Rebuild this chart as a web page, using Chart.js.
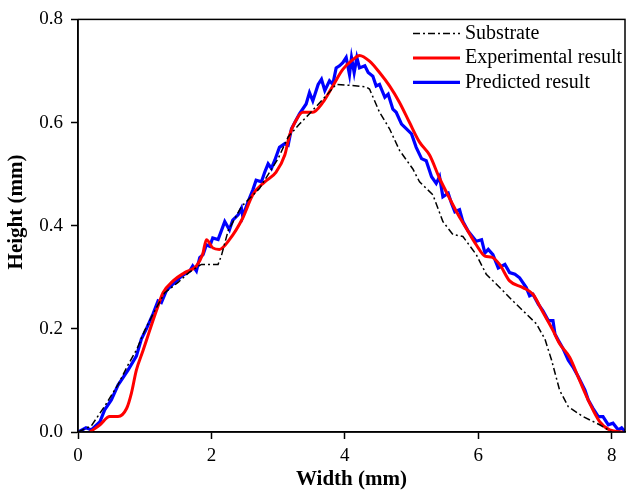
<!DOCTYPE html>
<html lang="en">
<head>
    <meta charset="UTF-8">
    <title>Height profile</title>
    <script src="https://cdn.jsdelivr.net/npm/chart.js"></script>
    <style>
        body {
            margin: 0;
            background-color: #fff;
        }
        #box {
            width: 627px;
            height: 494px;
        }
    </style>
</head>
<body>
    <div id="box"><canvas id="profileChart" width="627" height="494"></canvas></div>

    <script>
        // data
        const seriesNames = ['Substrate', 'Experimental result', 'Predicted result'];
        const xTicks = [0, 2, 4, 6, 8];
        const yTicks = [0, 0.2, 0.4, 0.6, 0.8];

        const substrateX = [0, 0.2, 0.4, 0.6, 0.75, 0.88, 1.0, 1.15, 1.3, 1.5,
            1.67, 1.85, 2.1, 2.15, 2.25, 2.45, 2.72, 3.0, 3.15, 3.32,
            3.47, 3.72, 3.87, 4.1, 4.32, 4.37, 4.52, 4.67, 4.82, 5.02,
            5.12, 5.32, 5.47, 5.62, 5.77, 5.97, 6.12, 6.37, 6.52, 6.72,
            6.87, 7.0, 7.1, 7.22, 7.35, 7.57, 7.82, 8.0];
        const substrateY = [0, 0.012, 0.05, 0.092, 0.13, 0.16, 0.197, 0.235, 0.27, 0.29,
            0.31, 0.325, 0.325, 0.342, 0.39, 0.437, 0.472, 0.53, 0.572, 0.597,
            0.617, 0.652, 0.674, 0.672, 0.669, 0.665, 0.62, 0.588, 0.546, 0.51,
            0.485, 0.46, 0.408, 0.383, 0.379, 0.344, 0.306, 0.274, 0.254, 0.229,
            0.21, 0.18, 0.139, 0.081, 0.049, 0.03, 0.014, 0.0];

        const experimentX = [0.18, 0.33, 0.475, 0.6, 0.73, 0.8, 0.875, 0.975, 1.075, 1.175,
            1.275, 1.425, 1.6, 1.775, 1.87, 1.925, 2.02, 2.12, 2.27, 2.47,
            2.62, 2.8, 2.97, 3.1, 3.17, 3.25, 3.37, 3.52, 3.67, 3.82,
            3.97, 4.12, 4.22, 4.37, 4.52, 4.67, 4.82, 4.97, 5.12, 5.27,
            5.42, 5.57, 5.7, 5.82, 5.97, 6.1, 6.2, 6.32, 6.47, 6.67,
            6.82, 6.97, 7.12, 7.22, 7.37, 7.52, 7.67, 7.82, 7.97, 8.17];
        const experimentY = [0, 0.014, 0.03, 0.03, 0.046, 0.075, 0.12, 0.158, 0.197, 0.235,
            0.27, 0.293, 0.309, 0.322, 0.345, 0.373, 0.357, 0.354, 0.373, 0.415,
            0.46, 0.485, 0.504, 0.537, 0.575, 0.6, 0.62, 0.62, 0.639, 0.671,
            0.703, 0.722, 0.73, 0.719, 0.697, 0.671, 0.639, 0.6, 0.562, 0.537,
            0.492, 0.453, 0.421, 0.395, 0.363, 0.341, 0.339, 0.325, 0.293, 0.28,
            0.267, 0.232, 0.197, 0.171, 0.145, 0.1, 0.056, 0.02, 0.004, 0];

        const predictedX = [0, 0.12, 0.2, 0.33, 0.4, 0.5, 0.6, 0.75, 0.875, 0.95,
            1.025, 1.125, 1.2, 1.25, 1.325, 1.425, 1.55, 1.675, 1.72, 1.775,
            1.825, 1.875, 1.925, 1.975, 2.02, 2.1, 2.2, 2.27, 2.32, 2.4,
            2.45, 2.47, 2.55, 2.62, 2.67, 2.75, 2.8, 2.85, 2.9, 2.95,
            3.02, 3.1, 3.15, 3.2, 3.25, 3.32, 3.42, 3.47, 3.52, 3.6,
            3.65, 3.7, 3.77, 3.82, 3.87, 3.92, 3.97, 4.02, 4.07, 4.1,
            4.14, 4.18, 4.22, 4.3, 4.35, 4.42, 4.47, 4.52, 4.6, 4.65,
            4.72, 4.77, 4.85, 4.92, 5.0, 5.07, 5.15, 5.22, 5.3, 5.37,
            5.42, 5.47, 5.55, 5.6, 5.65, 5.72, 5.77, 5.85, 5.97, 6.05,
            6.1, 6.15, 6.22, 6.3, 6.4, 6.47, 6.55, 6.62, 6.72, 6.77,
            6.82, 6.9, 6.97, 7.05, 7.12, 7.15, 7.2, 7.27, 7.35, 7.42,
            7.5, 7.6, 7.65, 7.72, 7.8, 7.87, 7.95, 8.02, 8.1, 8.15,
            8.2];
        const predictedY = [0, 0.008, 0.004, 0.02, 0.043, 0.062, 0.091, 0.12, 0.147, 0.18,
            0.2, 0.229, 0.254, 0.251, 0.274, 0.287, 0.302, 0.312, 0.322, 0.312,
            0.338, 0.344, 0.363, 0.36, 0.376, 0.373, 0.408, 0.392, 0.411, 0.421,
            0.434, 0.418, 0.447, 0.469, 0.488, 0.485, 0.504, 0.52, 0.511, 0.527,
            0.552, 0.559, 0.556, 0.588, 0.6, 0.617, 0.636, 0.658, 0.642, 0.674,
            0.684, 0.662, 0.681, 0.674, 0.706, 0.71, 0.716, 0.726, 0.693, 0.726,
            0.697, 0.726, 0.706, 0.71, 0.697, 0.69, 0.671, 0.674, 0.649, 0.655,
            0.626, 0.62, 0.597, 0.588, 0.578, 0.552, 0.53, 0.526, 0.495, 0.482,
            0.495, 0.456, 0.463, 0.443, 0.427, 0.431, 0.408, 0.389, 0.37, 0.373,
            0.347, 0.354, 0.344, 0.318, 0.325, 0.309, 0.306, 0.299, 0.28, 0.264,
            0.267, 0.248, 0.235, 0.216, 0.216, 0.19, 0.178, 0.162, 0.139, 0.126,
            0.107, 0.081, 0.062, 0.046, 0.03, 0.03, 0.014, 0.017, 0.004, 0.008,
            0.001];

        const toPoints = (xs, ys) => xs.map((x, i) => ({ x: x, y: ys[i] }));
        const serif = 'Liberation Serif, Times New Roman, serif';

        // box around the plot, y title and legend in the top right corner
        const framePlugin = {
            id: 'frame',
            afterDraw(chart) {
                const { ctx, chartArea } = chart;
                ctx.save();
                ctx.strokeStyle = '#000';
                ctx.lineWidth = 1.5;
                ctx.strokeRect(chartArea.left, chartArea.top,
                    chartArea.right - chartArea.left, chartArea.bottom - chartArea.top);

                // y axis title
                ctx.save();
                ctx.translate(17, 212);
                ctx.rotate(-Math.PI / 2);
                ctx.fillStyle = '#000';
                ctx.font = 'bold 21px ' + serif;
                ctx.textAlign = 'center';
                ctx.textBaseline = 'middle';
                ctx.fillText('Height (mm)', 0, 0);
                ctx.restore();

                const x0 = chartArea.left + 335;
                chart.data.datasets.forEach((ds, i) => {
                    const y = chartArea.top + 14 + i * 24.5;
                    ctx.beginPath();
                    ctx.strokeStyle = ds.borderColor;
                    ctx.lineWidth = ds.borderWidth;
                    ctx.setLineDash(ds.borderDash || []);
                    ctx.moveTo(x0, y);
                    ctx.lineTo(x0 + 47, y);
                    ctx.stroke();
                    ctx.setLineDash([]);
                    ctx.fillStyle = '#000';
                    ctx.font = '20px ' + serif;
                    ctx.textBaseline = 'middle';
                    ctx.textAlign = 'left';
                    ctx.fillText(ds.label, x0 + 52, y);
                });
                ctx.restore();
            }
        };

        const config = {
            type: 'line',
            data: {
                datasets: [{
                    label: seriesNames[0],
                    data: toPoints(substrateX, substrateY),
                    borderColor: '#000000',
                    borderWidth: 1.5,
                    borderDash: [7, 3, 2, 3],
                    pointRadius: 0,
                    tension: 0
                }, {
                    label: seriesNames[1],
                    data: toPoints(experimentX, experimentY),
                    borderColor: '#ff0000',
                    borderWidth: 3,
                    pointRadius: 0,
                    cubicInterpolationMode: 'monotone'
                }, {
                    label: seriesNames[2],
                    data: toPoints(predictedX, predictedY),
                    borderColor: '#0000ff',
                    borderWidth: 3.2,
                    pointRadius: 0,
                    tension: 0
                }]
            },
            options: {
                responsive: false,
                animation: false,
                layout: { padding: { top: 16, right: 2, left: 0, bottom: 0 } },
                plugins: {
                    legend: { display: false },
                    tooltip: { enabled: false }
                },
                scales: {
                    x: {
                        type: 'linear',
                        min: 0,
                        max: 8.2,
                        afterBuildTicks: s => { s.ticks = xTicks.map(v => ({ value: v })); },
                        afterFit: s => { s.height = 62; },
                        grid: { drawOnChartArea: false, tickLength: 7, tickColor: '#000', tickWidth: 1.5 },
                        border: { color: '#000', width: 1.5 },
                        ticks: {
                            padding: 6,
                            color: '#000',
                            font: { family: serif, size: 19 },
                            callback: v => String(v)
                        },
                        title: {
                            display: true,
                            text: 'Width (mm)',
                            color: '#000',
                            font: { family: serif, size: 21, weight: 'bold' },
                            padding: { top: 0, bottom: 2 }
                        }
                    },
                    y: {
                        min: 0,
                        max: 0.8,
                        afterBuildTicks: s => { s.ticks = yTicks.map(v => ({ value: v })); },
                        afterFit: s => { s.width = 78; },
                        grid: { drawOnChartArea: false, tickLength: 7, tickColor: '#000', tickWidth: 1.5 },
                        border: { color: '#000', width: 1.5 },
                        ticks: {
                            padding: 8,
                            color: '#000',
                            font: { family: serif, size: 19 },
                            callback: v => v.toFixed(1)
                        }
                    }
                }
            },
            plugins: [framePlugin]
        };

        new Chart(document.getElementById('profileChart'), config);
    </script>
</body>
</html>
